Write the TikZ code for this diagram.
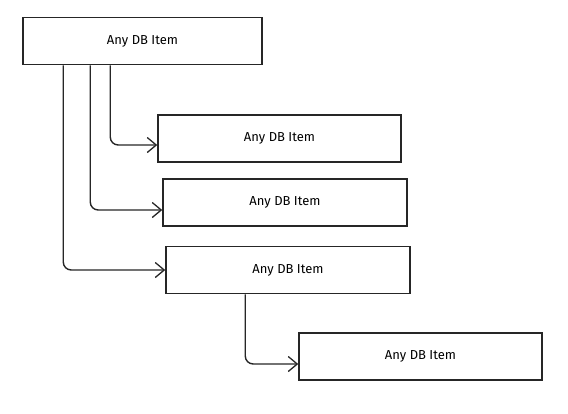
\documentclass[tikz,border=0pt]{standalone}
\usepackage{fontspec}
\setmainfont{Fira Sans}
\usetikzlibrary{arrows.meta,calc}
\begin{document}
\begin{tikzpicture}[x=1pt,y=-1pt,
  item/.style={draw=black!85,line width=1.5pt,minimum height=47pt,inner sep=0pt,fill=white,font=\fontsize{13}{15}\selectfont},
  conn/.style={draw=black!85,line width=1.4pt,rounded corners=8pt,-{Straight Barb[length=9pt,width=15pt,line width=1.3pt]}}]
\useasboundingbox (0,0) rectangle (568,413);
\node[item,minimum width=239pt] (A) at (142.5,41) {Any DB Item};
\node[item,minimum width=243pt] (B) at (279.5,138.5) {Any DB Item};
\node[item,minimum width=244pt] (C) at (285,202.5) {Any DB Item};
\node[item,minimum width=244pt] (D) at (288,270) {Any DB Item};
\node[item,minimum width=243pt] (E) at (420.5,356.5) {Any DB Item};
\draw[conn] ($(A.south west)+(88,0)$) |- ($(B.west)+(0,6.5)$);
\draw[conn] ($(A.south west)+(68,0)$) |- ($(C.west)+(0,7.5)$);
\draw[conn] ($(A.south west)+(41,0)$) |- (D.west);
\draw[conn] ($(D.south west)+(80,0)$) |- ($(E.west)+(0,7.5)$);
\end{tikzpicture}
\end{document}
